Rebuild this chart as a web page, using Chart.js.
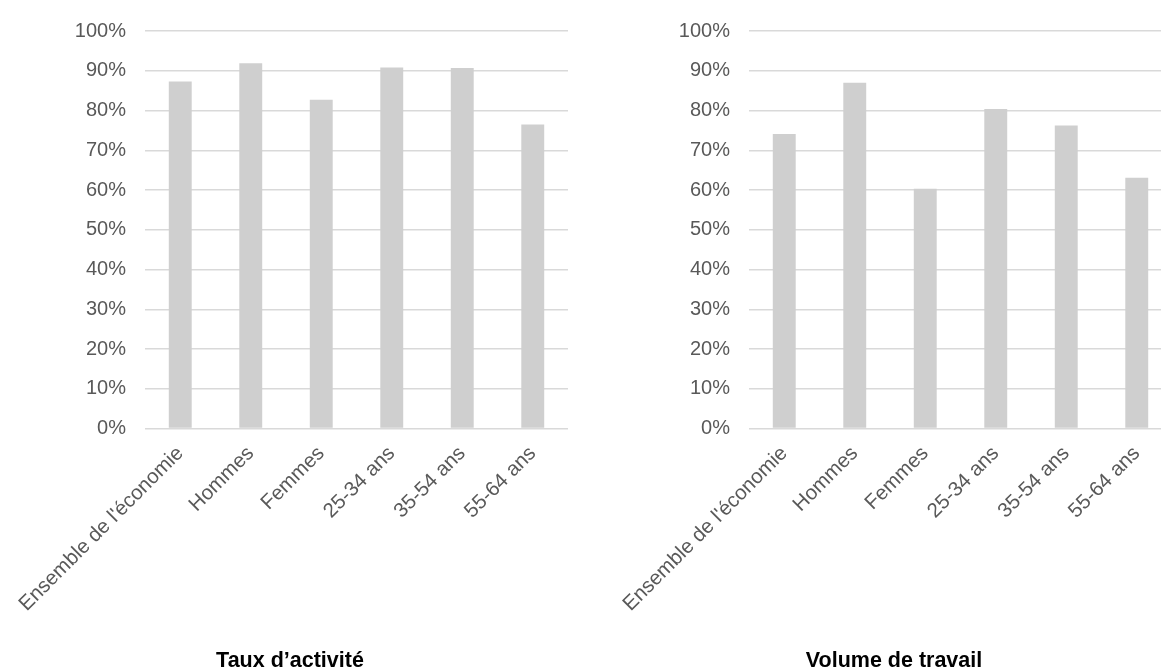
<!DOCTYPE html>
<html lang="fr">
<head>
<meta charset="utf-8">
<script src="https://cdn.jsdelivr.net/npm/chart.js@4/dist/chart.umd.min.js"></script>
<style>
  html, body { margin: 0; padding: 0; background: #fff; overflow: hidden; }
  .panel { position: absolute; top: 0; width: 580px; height: 672px; }
  #wrap-activite { left: 0; }
  #wrap-volume { left: 604px; }
</style>
</head>
<body>
<div class="panel" id="wrap-activite"><canvas id="chart-activite"></canvas></div>
<div class="panel" id="wrap-volume"><canvas id="chart-volume"></canvas></div>
<script>
// ---- data ----
const categories = ['Ensemble de l\'économie', 'Hommes', 'Femmes', '25-34 ans', '35-54 ans', '55-64 ans'];
const tauxActivite = [87.3, 91.9, 82.7, 90.8, 90.7, 76.5];
const volumeTravail = [74.1, 87.0, 60.3, 80.4, 76.2, 63.1];
const yTicks = [0, 10, 20, 30, 40, 50, 60, 70, 80, 90, 100];

const FONT = '"Liberation Sans", Arial, sans-serif';
const TEXT_GREY = '#595959';
const GRID = '#d9d9d9';

const barOptions = (title) => ({
  responsive: true,
  maintainAspectRatio: false,
  animation: false,
  // left/right padding equal so the bottom title centres on the panel
  layout: { padding: { top: 27, right: 12, bottom: 0, left: 12 } },
  plugins: {
    legend: { display: false },
    tooltip: { enabled: false },
    title: {
      display: true,
      position: 'bottom',
      text: title,
      color: '#000',
      padding: { top: 2, bottom: 0 },
      font: { family: FONT, size: 21.5, weight: 'bold', lineHeight: 1 },
    },
  },
  scales: {
    y: {
      min: 0,
      max: 100,
      afterFit: s => { s.width = 133; },
      afterBuildTicks: s => { s.ticks = yTicks.map(v => ({ value: v })); },
      border: { display: false },
      grid: { color: GRID, lineWidth: 1.5, drawTicks: false },
      ticks: {
        padding: 19,
        color: TEXT_GREY,
        font: { family: FONT, size: 20 },
        callback: v => v + '%',
      },
    },
    x: {
      afterFit: s => { s.height = 220; },
      border: { display: false },
      grid: { display: false },
      ticks: {
        autoSkip: false,
        minRotation: 45,
        maxRotation: 45,
        padding: 5,
        color: TEXT_GREY,
        font: { family: FONT, size: 20.5 },
      },
    },
  },
});

const makeChart = (id, values, title) => new Chart(document.getElementById(id), {
  type: 'bar',
  data: {
    labels: categories,
    datasets: [{
      data: values,
      backgroundColor: '#cfcfcf',
      borderWidth: 0,
      barPercentage: 1,
      categoryPercentage: 0.325,
    }],
  },
  options: barOptions(title),
});

makeChart('chart-activite', tauxActivite, 'Taux d\u2019activité');
makeChart('chart-volume', volumeTravail, 'Volume de travail');
</script>
</body>
</html>
